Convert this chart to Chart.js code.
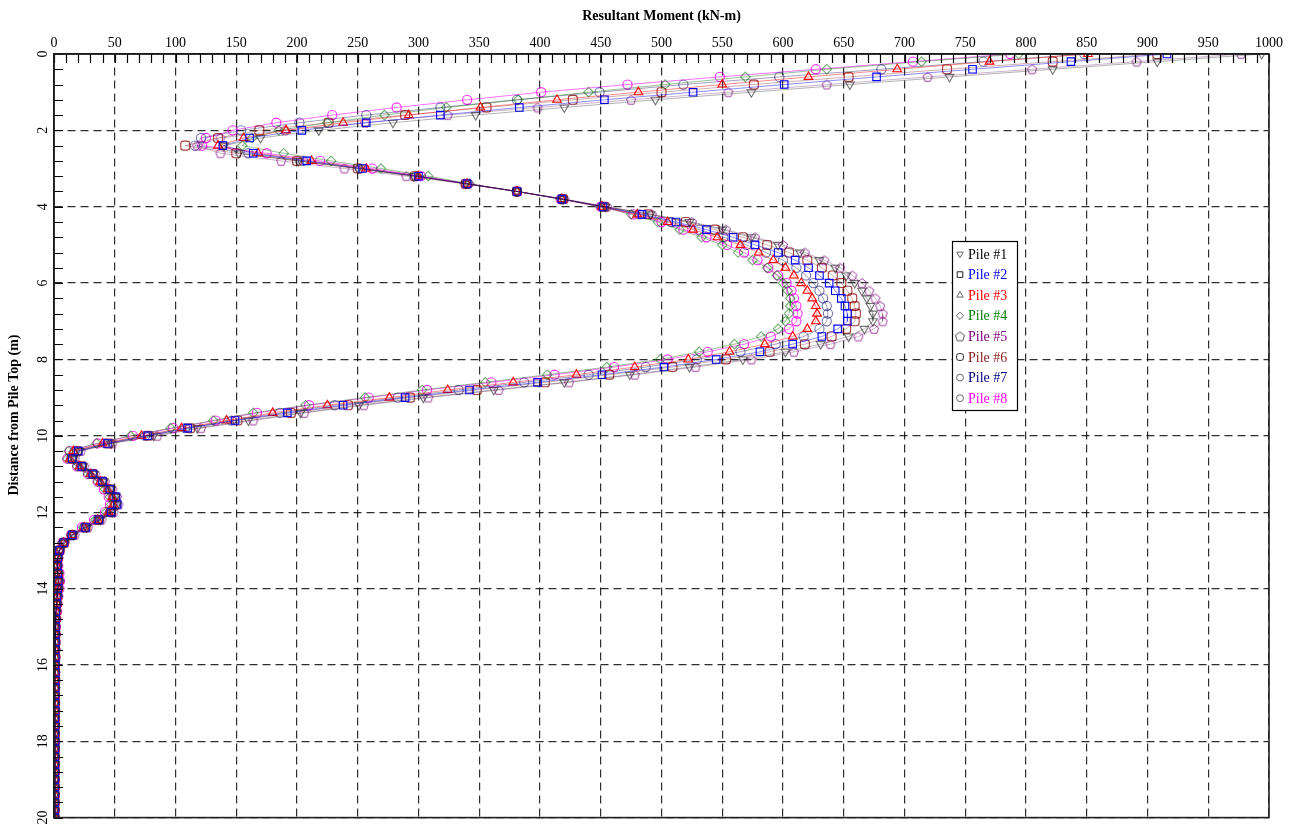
<!DOCTYPE html>
<html>
<head>
<meta charset="utf-8">
<script src="https://cdn.jsdelivr.net/npm/chart.js@4.4.1/dist/chart.umd.min.js"></script>
<style>
  html, body { margin: 0; padding: 0; background: #fff; }
  canvas { display: block; }
</style>
</head>
<body>
<canvas id="c" width="1296" height="830"></canvas>
<script>
// ---------------- DATA ----------------
const depths = [
  0.0, 0.2, 0.4, 0.6, 0.8, 1.0, 1.2, 1.4, 1.6, 1.8,
  2.0, 2.2, 2.4, 2.6, 2.8, 3.0, 3.2, 3.4, 3.6, 3.8,
  4.0, 4.2, 4.4, 4.6, 4.8, 5.0, 5.2, 5.4, 5.6, 5.8,
  6.0, 6.2, 6.4, 6.6, 6.8, 7.0, 7.2, 7.4, 7.6, 7.8,
  8.0, 8.2, 8.4, 8.6, 8.8, 9.0, 9.2, 9.4, 9.6, 9.8,
  10.0, 10.2, 10.4, 10.6, 10.8, 11.0, 11.2, 11.4, 11.6, 11.8,
  12.0, 12.2, 12.4, 12.6, 12.8, 13.0, 13.2, 13.4, 13.6, 13.8,
  14.0, 14.2, 14.4, 14.6, 14.8, 15.0, 15.2, 15.4, 15.6, 15.8,
  16.0, 16.2, 16.4, 16.6, 16.8, 17.0, 17.2, 17.4, 17.6, 17.8,
  18.0, 18.2, 18.4, 18.6, 18.8, 19.0, 19.2, 19.4, 19.6, 19.8,
  20.0
];

const pileLabels = ['Pile #1', 'Pile #2', 'Pile #3', 'Pile #4', 'Pile #5', 'Pile #6', 'Pile #7', 'Pile #8'];
const xAxisTitle = 'Resultant Moment (kN-m)';
const yAxisTitle = 'Distance from Pile Top (m)';

const pile1 = [
  994, 908, 822, 737, 655, 574, 495, 420, 347, 279,
  218, 170, 140, 152, 201, 250, 296, 339, 381, 419,
  454, 491, 523, 550, 574, 596, 614, 630, 643, 652,
  659, 665, 669, 672, 674, 674, 667, 654, 631, 602,
  567, 523, 474, 420, 362, 304, 251, 203, 160, 118,
  82, 47, 21, 16, 24, 33, 41, 47, 51, 52,
  48, 38, 27, 16, 9, 5, 3, 2.5, 3, 3.5,
  3, 2.5, 2, 1.5, 1.2, 1, 1.2, 0.9, 1, 0.8,
  1, 0.9, 0.8, 1, 0.7, 0.9, 0.8, 0.7, 0.9, 0.6,
  0.8, 0.7, 0.6, 0.8, 0.6, 0.7, 0.5, 0.6, 0.5, 0.6,
  0.5
];
const pile2 = [
  916, 837, 756, 677, 601, 526, 453, 383, 318, 257,
  204, 161, 139, 164, 208, 254, 300, 340, 381, 418,
  452, 484, 512, 537, 559, 577, 596, 610, 621, 630,
  638, 643, 648, 651, 653, 653, 645, 632, 608, 581,
  545, 502, 451, 398, 342, 289, 238, 192, 149, 110,
  77, 44, 20, 15, 23, 32, 40, 46, 51, 52,
  47, 37, 26, 15, 8, 4.5, 3, 2.5, 3, 3.5,
  3, 2.5, 2, 1.5, 1.2, 1.1, 1, 1.1, 0.9, 1,
  0.8, 1, 0.8, 0.9, 0.8, 0.7, 0.9, 0.7, 0.8, 0.6,
  0.8, 0.6, 0.7, 0.6, 0.7, 0.5, 0.6, 0.5, 0.6, 0.4,
  0.5
];
const pile3 = [
  851, 770, 694, 621, 550, 481, 414, 351, 292, 238,
  191, 156, 135, 168, 212, 257, 300, 340, 381, 418,
  451, 480, 505, 526, 546, 565, 580, 592, 602, 609,
  615, 620, 624, 627, 628, 627, 620, 608, 585, 556,
  522, 478, 430, 378, 324, 276, 225, 180, 142, 105,
  72, 40, 16, 13, 21, 30, 38, 44, 48, 49,
  45, 36, 25, 15, 8, 4.5, 3, 2.5, 3.5, 4,
  3.5, 3, 2.5, 2, 1.5, 1.2, 1, 1.2, 0.9, 1,
  0.8, 1, 0.9, 0.8, 0.9, 0.7, 0.8, 0.7, 0.8, 0.6,
  0.7, 0.6, 0.7, 0.6, 0.5, 0.6, 0.5, 0.6, 0.5, 0.4,
  0.5
];
const pile4 = [
  794, 714, 636, 569, 503, 440, 382, 323, 272, 225,
  185, 163, 155, 189, 228, 269, 308, 342, 381, 417,
  450, 475, 497, 515, 533, 550, 563, 575, 587, 595,
  600, 604, 606, 606, 605, 602, 596, 582, 560, 531,
  499, 455, 406, 355, 303, 256, 207, 164, 131, 96,
  63, 35, 12, 11, 19, 28, 36, 42, 46, 47,
  43, 34, 24, 14, 7, 4, 3, 3, 4, 4.5,
  4, 3, 2.5, 2, 1.5, 1.2, 1.3, 1, 1.1, 0.9,
  1, 0.9, 0.8, 1, 0.8, 0.7, 0.9, 0.7, 0.8, 0.6,
  0.7, 0.7, 0.6, 0.7, 0.5, 0.6, 0.5, 0.6, 0.5, 0.5,
  0.4
];
const pile5 = [
  977, 891, 805, 719, 636, 555, 475, 398, 324, 256,
  190, 137, 118, 137, 187, 239, 290, 338, 381, 420,
  455, 492, 525, 553, 577, 600, 618, 634, 647, 657,
  665, 671, 676, 680, 682, 682, 675, 662, 639, 609,
  574, 528, 478, 424, 366, 308, 255, 206, 164, 121,
  85, 48, 22, 17, 25, 34, 42, 48, 52, 53,
  49, 39, 28, 17, 9, 5, 3.5, 2.5, 3, 3.5,
  3, 2.5, 2, 1.5, 1.2, 1, 1.1, 0.9, 1, 0.8,
  1, 0.8, 0.9, 0.7, 0.9, 0.8, 0.7, 0.8, 0.6, 0.8,
  0.7, 0.6, 0.7, 0.6, 0.7, 0.5, 0.6, 0.5, 0.5, 0.6,
  0.5
];
const pile6 = [
  908, 822, 735, 654, 576, 500, 427, 356, 289, 226,
  169, 135, 108, 150, 200, 250, 297, 339, 381, 419,
  453, 489, 520, 544, 567, 587, 605, 620, 632, 641,
  648, 653, 657, 659, 660, 659, 652, 640, 618, 589,
  553, 509, 457, 404, 348, 293, 242, 195, 151, 112,
  78, 45, 19, 15, 23, 32, 40, 46, 50, 51,
  47, 37, 26, 15, 8, 4.5, 3, 2.5, 3, 3.5,
  3, 2.5, 2, 1.5, 1.2, 1, 1.2, 1, 0.9, 1,
  0.8, 0.9, 1, 0.8, 0.7, 0.9, 0.8, 0.7, 0.8, 0.7,
  0.6, 0.8, 0.6, 0.7, 0.6, 0.5, 0.7, 0.5, 0.6, 0.5,
  0.5
];
const pile7 = [
  848, 765, 681, 597, 518, 449, 381, 318, 257, 202,
  154, 121, 116, 160, 205, 252, 298, 340, 381, 418,
  451, 482, 508, 531, 551, 570, 586, 600, 611, 619,
  625, 630, 633, 636, 637, 636, 630, 617, 594, 565,
  529, 487, 440, 387, 333, 283, 231, 186, 146, 108,
  75, 42, 17, 14, 22, 31, 39, 45, 49, 50,
  46, 36, 25, 15, 8, 4.5, 3, 2.5, 3.5, 4,
  3.5, 3, 2.5, 2, 1.5, 1.2, 1, 1.1, 0.9, 1,
  0.9, 0.8, 1, 0.8, 0.9, 0.7, 0.8, 0.7, 0.8, 0.6,
  0.7, 0.6, 0.7, 0.5, 0.6, 0.6, 0.5, 0.6, 0.5, 0.5,
  0.4
];
const pile8 = [
  787, 707, 627, 548, 472, 401, 340, 282, 229, 183,
  147, 125, 122, 175, 219, 262, 302, 341, 381, 417,
  450, 477, 500, 518, 537, 554, 568, 579, 588, 596,
  603, 607, 609, 611, 612, 611, 605, 590, 568, 538,
  505, 461, 412, 360, 307, 259, 210, 167, 133, 98,
  65, 36, 13, 11, 19, 28, 36, 41, 45, 46,
  42, 33, 23, 14, 7, 4, 3.5, 3.5, 4.5, 5,
  4.5, 3.5, 3, 2.5, 2, 1.5, 1.3, 1.2, 1, 1.1,
  0.9, 1, 0.8, 0.9, 0.8, 0.7, 0.9, 0.7, 0.8, 0.6,
  0.7, 0.7, 0.6, 0.7, 0.5, 0.6, 0.5, 0.6, 0.5, 0.5,
  0.4
];
const pileValues = [pile1, pile2, pile3, pile4, pile5, pile6, pile7, pile8];

const xTickStep = 50;     // labelled ticks / grid (kN-m)
const xMinorStep = 10;    // small inward ticks (kN-m)
const yTickStep = 2;      // labelled ticks / grid (m)
const yMinorStep = 0.4;   // small inward ticks (m)

// ---------------- STYLES ----------------
function makePentagon(color) {
  const c = document.createElement('canvas');
  c.width = 12; c.height = 12;
  const g = c.getContext('2d');
  g.strokeStyle = color; g.lineWidth = 1;
  g.beginPath();
  for (let k = 0; k < 5; k++) {
    const a = -Math.PI / 2 + k * 2 * Math.PI / 5;
    const px = 6 + 4.8 * Math.cos(a), py = 6.4 + 4.8 * Math.sin(a);
    if (k === 0) g.moveTo(px, py); else g.lineTo(px, py);
  }
  g.closePath(); g.stroke();
  return c;
}

const styles = [
  { point: 'triangle', rot: 180, r: 5,   marker: 'rgba(40,40,40,0.65)',  line: 'rgba(0,0,0,0.30)',     text: '#000000' },
  { point: 'rect',     rot: 0,   r: 5.3, marker: '#0000ff',              line: 'rgba(0,0,255,0.45)',   text: '#0000ff' },
  { point: 'triangle', rot: 0,   r: 5,   marker: '#ff0000',              line: 'rgba(255,0,0,0.45)',   text: '#ff0000' },
  { point: 'rectRot',  rot: 0,   r: 4.8, marker: 'rgba(0,110,0,0.55)',   line: 'rgba(0,100,0,0.40)',   text: '#008000' },
  { point: makePentagon('rgba(128,0,128,0.75)'), rot: 0, r: 5, marker: 'rgba(128,0,128,0.75)', line: 'rgba(110,40,110,0.35)', text: '#800080' },
  { point: 'rectRounded', rot: 0, r: 5.2, marker: 'rgba(139,0,0,0.75)', line: 'rgba(120,30,30,0.35)', text: '#8b1a1a' },
  { point: 'circle',   rot: 0,   r: 4.6, marker: 'rgba(0,0,110,0.55)',   line: 'rgba(20,20,90,0.40)',  text: '#000080' },
  { point: 'circle',   rot: 0,   r: 4.6, marker: 'rgba(255,0,255,0.85)', line: 'rgba(255,0,255,0.55)', text: '#ff00ff' }
];
const legendPentagon = makePentagon('#555');

const SERIF = "'Liberation Serif', 'Times New Roman', 'DejaVu Serif', serif";

const datasets = pileValues.map((vals, i) => ({
  label: pileLabels[i],
  data: vals.map((v, k) => ({ x: v, y: depths[k] })),
  borderColor: styles[i].line,
  borderWidth: 1,
  pointStyle: styles[i].point,
  pointRotation: styles[i].rot,
  pointRadius: styles[i].r,
  pointBorderColor: styles[i].marker,
  pointBackgroundColor: 'rgba(0,0,0,0)',
  pointBorderWidth: 1.1,
  fill: false,
  tension: 0
}));

// ---------------- PLUGINS ----------------
const whiteBg = {
  id: 'whiteBg',
  beforeDraw(chart) {
    const ctx = chart.ctx;
    ctx.save(); ctx.fillStyle = '#fff';
    ctx.fillRect(0, 0, chart.width, chart.height); ctx.restore();
  }
};

const frameAndMinor = {
  id: 'frameAndMinor',
  afterDatasetsDraw(chart) {
    const { ctx, chartArea: a, scales: { x, y } } = chart;
    ctx.save();
    ctx.strokeStyle = '#000'; ctx.lineWidth = 1.2; ctx.setLineDash([]);
    ctx.beginPath();
    for (let k = 0; k * xMinorStep <= x.max + 1e-9; k++) {
      const px = Math.round(x.getPixelForValue(k * xMinorStep)) + 0.5;
      ctx.moveTo(px, a.top); ctx.lineTo(px, a.top + 9);
    }
    for (let k = 0; k * yMinorStep <= y.max + 1e-9; k++) {
      const py = Math.round(y.getPixelForValue(k * yMinorStep)) + 0.5;
      ctx.moveTo(a.left, py); ctx.lineTo(a.left + 9, py);
    }
    ctx.stroke();
    ctx.lineWidth = 1.6; ctx.strokeStyle = '#222';
    ctx.strokeRect(a.left, a.top, a.right - a.left, a.bottom - a.top);
    ctx.restore();
  }
};

// y-axis title: reference places it a little above the axis centre
const yTitle = {
  id: 'yTitle',
  afterDraw(chart) {
    const ctx = chart.ctx;
    ctx.save();
    ctx.translate(14, 415);
    ctx.rotate(-Math.PI / 2);
    ctx.fillStyle = '#000';
    ctx.font = 'bold 14px ' + SERIF;
    ctx.textAlign = 'center'; ctx.textBaseline = 'middle';
    ctx.fillText(yAxisTitle, 0, 0);
    ctx.restore();
  }
};

const boxLegend = {
  id: 'boxLegend',
  afterDraw(chart) {
    const ctx = chart.ctx;
    const bx = 952, by = 241, bw = 65, bh = 169;
    ctx.save();
    ctx.fillStyle = '#fff';
    ctx.fillRect(bx, by, bw, bh);
    ctx.strokeStyle = '#000'; ctx.lineWidth = 1.2;
    ctx.strokeRect(bx + 0.5, by + 0.5, bw, bh);
    chart.data.datasets.forEach((ds, i) => {
      const cy = by + 13 + i * 20.6;
      const st = styles[i];
      ctx.fillStyle = 'rgba(255,255,255,0)';
      ctx.strokeStyle = (i === 1 || i === 5) ? '#222' : '#666';
      ctx.lineWidth = 1;
      Chart.helpers.drawPoint(ctx, {
        pointStyle: (typeof st.point === 'string') ? st.point : legendPentagon,
        rotation: st.rot,
        radius: st.r * 0.75,
        borderWidth: 1
      }, 960, cy);
      ctx.fillStyle = st.text;
      ctx.font = '14px ' + SERIF;
      ctx.textBaseline = 'middle'; ctx.textAlign = 'left';
      ctx.fillText(ds.label, 968, cy + 1);
    });
    ctx.restore();
  }
};

// ---------------- CHART ----------------
new Chart(document.getElementById('c'), {
  type: 'line',
  data: { datasets },
  options: {
    responsive: false,
    animation: false,
    devicePixelRatio: 1,
    events: [],
    layout: { padding: { top: 0, left: 0, right: 27, bottom: 8 } },
    plugins: { legend: { display: false }, tooltip: { enabled: false }, title: { display: false } },
    scales: {
      x: {
        type: 'linear', position: 'top', min: 0, max: 1000,
        ticks: { stepSize: xTickStep, padding: 2, maxRotation: 0, autoSkip: false,
                 color: '#000', font: { family: SERIF, size: 14 },
                 callback: (v) => String(v) },
        grid: { color: 'rgba(0,0,0,0.82)', lineWidth: 1.2, drawTicks: false },
        border: { display: true, color: '#000', width: 1.5, dash: [8, 5] },
        title: { display: true, text: xAxisTitle, color: '#000',
                 font: { family: SERIF, size: 14, weight: 'bold' }, padding: { top: 8, bottom: 0 } },
        afterFit: (s) => { s.height = 54; }
      },
      y: {
        type: 'linear', reverse: true, min: 0, max: 20,
        ticks: { stepSize: yTickStep, padding: 4, minRotation: 90, maxRotation: 90, crossAlign: 'center',
                 autoSkip: false, color: '#000', font: { family: SERIF, size: 14 },
                 callback: (v) => String(v) },
        grid: { color: 'rgba(0,0,0,0.82)', lineWidth: 1.2, drawTicks: false },
        border: { display: true, color: '#000', width: 1.5, dash: [8, 5] },
        title: { display: false, text: yAxisTitle },
        afterFit: (s) => { s.width = 54; }
      }
    }
  },
  plugins: [whiteBg, frameAndMinor, yTitle, boxLegend]
});
</script>
</body>
</html>
